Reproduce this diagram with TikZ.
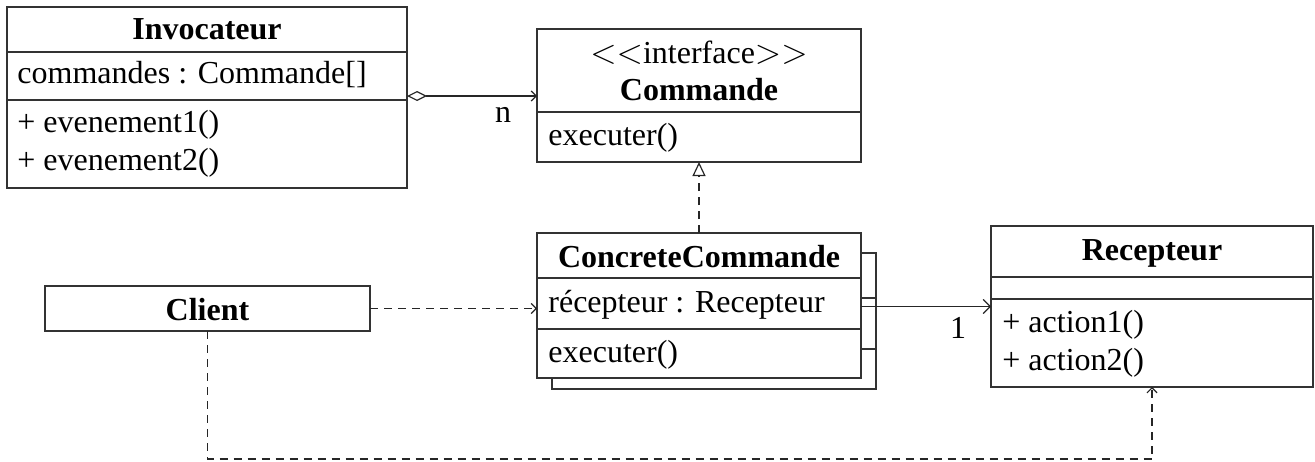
\documentclass[tikz,border=0pt]{standalone}
\usepackage{fontspec}
\setmainfont{Liberation Serif}
\usetikzlibrary{arrows.meta}
\begin{document}
\begin{tikzpicture}[x=0.5pt,y=-0.5pt,
  box/.style={draw=black!80, line width=0.65pt, fill=white, rectangle, inner sep=0pt, outer sep=0pt},
  sepline/.style={draw=black!80, line width=0.65pt},
  txt/.style={font=\fontsize{16}{19}\selectfont, inner sep=0pt, anchor=base west},
  ttl/.style={font=\fontsize{16}{19}\selectfont\bfseries, inner sep=0pt, anchor=base},
  lbl/.style={font=\fontsize{16}{19}\selectfont, inner sep=0pt, anchor=base},
  link/.style={draw=black!85, line width=0.6pt},
  dep/.style={link, dash pattern=on 4pt off 3pt},
  barb/.style={-{Straight Barb[length=3.5pt,width=7pt]}},
  smallbarb/.style={-{Straight Barb[length=2.5pt,width=5pt]}},
]
\useasboundingbox (0,0) rectangle (1315,461);

% Invocateur
\node[box, minimum width=200pt, minimum height=90.5pt] (inv) at (207,97.5) {};
\draw[sepline] (inv.west |- 0,52) -- (inv.east |- 0,52);
\draw[sepline] (inv.west |- 0,100) -- (inv.east |- 0,100);
\node[ttl] (invT) at (207,39) {Invocateur};
\node[txt] (invA) at (17,83) {commandes : Commande[]};
\node[txt] (invM1) at (17,132) {+ evenement1()};
\node[txt] (invM2) at (17,170) {+ evenement2()};

% Commande
\node[box, minimum width=162pt, minimum height=66.5pt] (cmd) at (699,95.5) {};
\draw[sepline] (cmd.west |- 0,112) -- (cmd.east |- 0,112);
\node[lbl] (cmdS) at (699,63) {\(<<\)interface\(>>\)};
\node[ttl] (cmdT) at (699,100) {Commande};
\node[txt] (cmdM) at (548,145) {executer()};

% ConcreteCommande (stacked)
\node[box, minimum width=162pt, minimum height=68pt] (ccb) at (714,321) {};
\draw[sepline] (ccb.west |- 0,298) -- (ccb.east |- 0,298);
\draw[sepline] (ccb.west |- 0,349) -- (ccb.east |- 0,349);
\node[box, minimum width=162pt, minimum height=72.5pt] (cc) at (699,305.5) {};
\draw[sepline] (cc.west |- 0,278) -- (cc.east |- 0,278);
\draw[sepline] (cc.west |- 0,329) -- (cc.east |- 0,329);
\node[ttl] (ccT) at (699,267) {ConcreteCommande};
\node[txt] (ccA) at (548,312) {récepteur : Recepteur};
\node[txt] (ccM) at (548,362) {executer()};

% Recepteur
\node[box, minimum width=161pt, minimum height=80.5pt] (rec) at (1152,306.5) {};
\draw[sepline] (rec.west |- 0,277) -- (rec.east |- 0,277);
\draw[sepline] (rec.west |- 0,299) -- (rec.east |- 0,299);
\node[ttl] (recT) at (1152,260) {Recepteur};
\node[txt] (recM1) at (1002,332) {+ action1()};
\node[txt] (recM2) at (1002,370) {+ action2()};

% Client
\node[box, minimum width=162.5pt, minimum height=22.5pt] (cli) at (207.5,308.5) {};
\node[ttl] (cliT) at (207.5,320) {Client};

% connectors
\draw[link, {Diamond[open,length=10pt,width=5pt]}-{Straight Barb[length=2.5pt,width=5pt]}]
  (inv.east |- 0,96) -- (cmd.west |- 0,96);
\node[lbl] (nlab) at (503,122) {n};

\draw[dep, -{Triangle[open,length=7pt,width=6.5pt]}] (cc.north) -- (cmd.south);

\draw[dep, smallbarb] (cli.east) -- (cc.west |- cli.east);

\draw[link, barb] (cc.east |- rec.west) -- (rec.west);
\node[lbl] (onelab) at (958,338) {1};

\draw[dep, smallbarb] (cli.south) -- ++(0,128) -| (rec.south);
\end{tikzpicture}
\end{document}
